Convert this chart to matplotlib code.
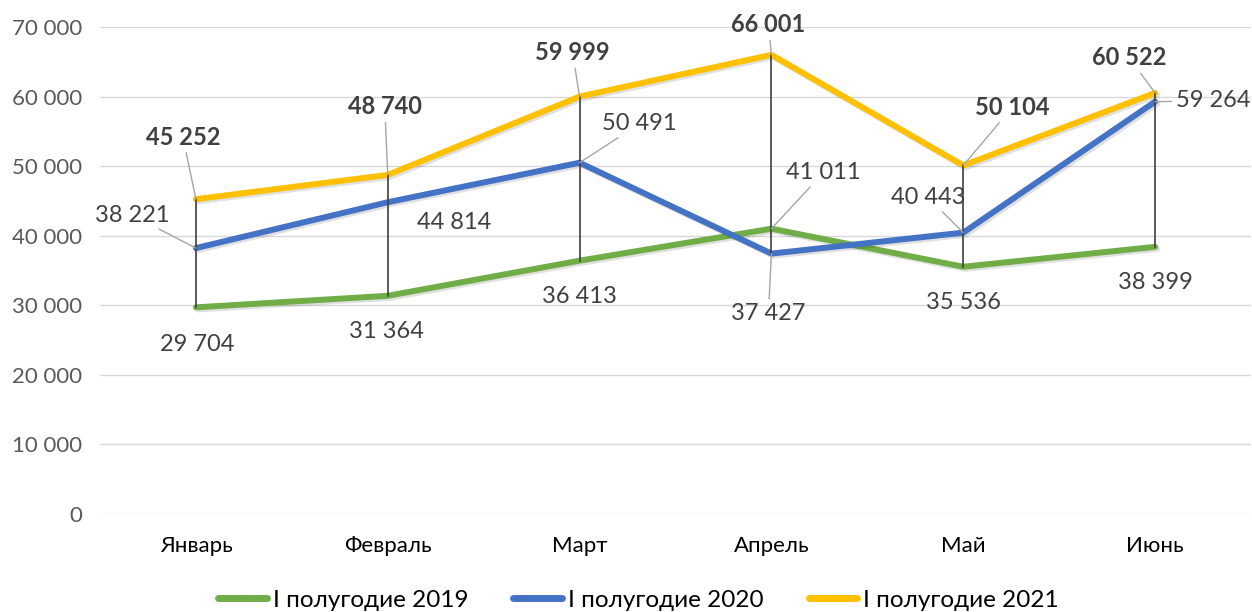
import matplotlib
matplotlib.use("Agg")
import matplotlib.pyplot as plt
import matplotlib.patheffects as pe
from matplotlib.ticker import FuncFormatter

plt.rcParams['font.family'] = ['Lato', 'DejaVu Sans']

months = ['Январь', 'Февраль', 'Март', 'Апрель', 'Май', 'Июнь']
y2019 = [29704, 31364, 36413, 41011, 35536, 38399]
y2020 = [38221, 44814, 50491, 37427, 40443, 59264]
y2021 = [45252, 48740, 59999, 66001, 50104, 60522]
series_names = ['I полугодие 2019', 'I полугодие 2020', 'I полугодие 2021']

colors = ['#70AD47', '#4472C4', '#FFC000']

# label offsets in pixels (dx, dy) and whether a leader line is drawn
off2019 = [(1, -37), (-1, -36), (0, -36), (52, 56), (0, -36), (0, -36)]
lead2019 = [False, False, False, True, False, False]
off2020 = [(-64, 33), (66, -20), (60, 39), (-3, -60), (-35, 35), (58, 1)]
lead2020 = [True, False, True, True, True, True]
off2021 = [(-13, 62), (-3, 68), (-7, 44), (-3, 30), (49, 58), (-26, 35)]
lead2021 = [True, True, True, True, True, True]


def fmt(v, pos=None):
    return '{:,}'.format(int(v)).replace(',', ' ')


fig = plt.figure(figsize=(12.52, 6.12), dpi=100)
ax = fig.add_axes([100 / 1252, 98 / 612, 1151 / 1252, 487 / 612])

x = list(range(len(months)))
shadow = [pe.SimpleLineShadow(offset=(1.5, -1.5), alpha=0.12), pe.Normal()]
lines = []
for vals, c, name in zip([y2019, y2020, y2021], colors, series_names):
    ln, = ax.plot(x, vals, color=c, lw=4.3, solid_capstyle='round',
                  solid_joinstyle='round', label=name, zorder=2,
                  path_effects=shadow)
    lines.append(ln)

# drop lines (high-low)
for i in x:
    vs = [y2019[i], y2020[i], y2021[i]]
    ax.plot([i, i], [min(vs), max(vs)], color='#404040', lw=1.2, zorder=3)

# data labels
for vals, offs, leads, bold in [(y2019, off2019, lead2019, False),
                                (y2020, off2020, lead2020, False),
                                (y2021, off2021, lead2021, True)]:
    for i, v in enumerate(vals):
        ap = None
        if leads[i]:
            ap = dict(arrowstyle='-', color='#a6a6a6', lw=1, shrinkA=1, shrinkB=0)
        ax.annotate(fmt(v), xy=(i, v), xytext=offs[i], textcoords='offset pixels',
                    ha='center', va='center', fontsize=17, color='#404040',
                    fontweight='bold' if bold else 'normal', arrowprops=ap,
                    zorder=4)

ax.set_xlim(-0.5, 5.5)
ax.set_ylim(0, 70000)
ax.set_yticks(range(0, 70001, 10000))
ax.yaxis.set_major_formatter(FuncFormatter(fmt))
ax.set_xticks(x)
ax.set_xticklabels(months)
ax.grid(axis='y', color='#d9d9d9', lw=1)
ax.set_axisbelow(True)
for s in ax.spines.values():
    s.set_visible(False)
ax.tick_params(axis='y', length=0, pad=13, labelsize=16, labelcolor='#595959')
ax.tick_params(axis='x', length=0, pad=16, labelsize=16, labelcolor='#000000')

leg = fig.legend(handles=lines, loc='center', bbox_to_anchor=(0.51, 12 / 612),
                 ncol=3, frameon=False, fontsize=17.5, handlelength=2.0,
                 handletextpad=0.25, columnspacing=1.85)
for h in leg.legend_handles:
    h.set_path_effects([])
    h.set_linewidth(5)
    h.set_solid_capstyle('round')

fig.savefig('out.png', dpi=100)
